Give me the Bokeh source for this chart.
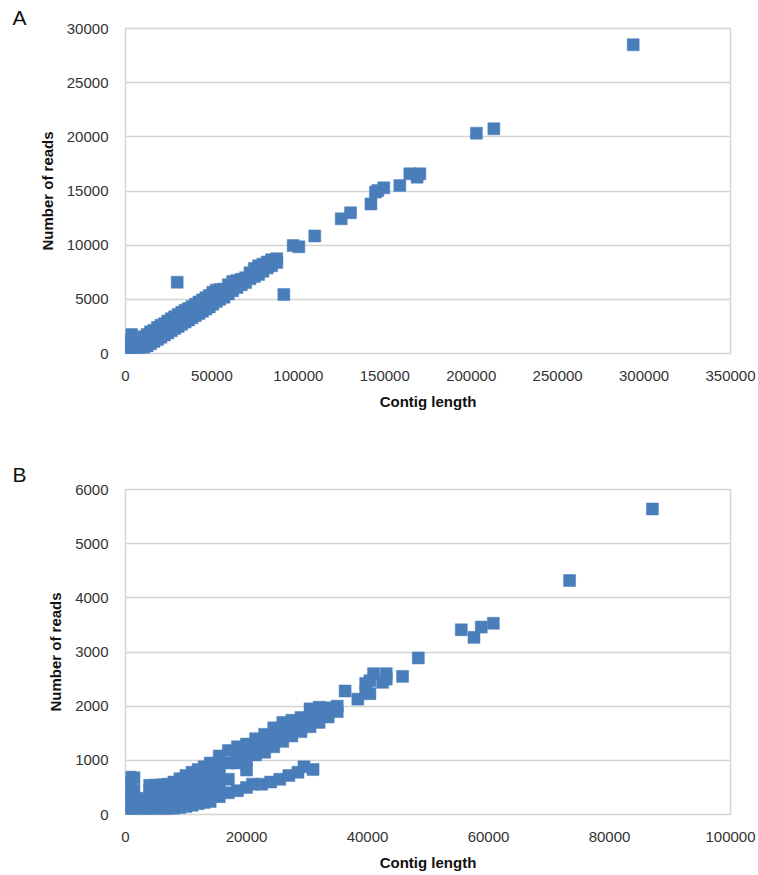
from bokeh.plotting import figure
from bokeh.layouts import column
from bokeh.models import Range1d, FixedTicker, BasicTickFormatter
from bokeh.embed import file_html
from bokeh.resources import INLINE

# ---------------- Panel A ----------------
a_x_ticks = [0, 50000, 100000, 150000, 200000, 250000, 300000, 350000]
a_y_ticks = [0, 5000, 10000, 15000, 20000, 25000, 30000]

a_length = [
    0, 0, 0, 1500, 1500, 3500, 3500, 3500, 3000, 5500, 6000, 8000, 8000,
    10500, 10500, 12500, 12500, 14500, 14500, 16500, 16500, 18500, 18500,
    20500, 20500, 22500, 22500, 24500, 24500, 26500, 26500, 28500, 28500,
    30500, 30500, 32500, 32500, 34500, 34500, 36500, 36500, 38500, 38500,
    40500, 40500, 42500, 42500, 44500, 44500, 46500, 46500, 48500, 48500,
    50500, 50500, 52500, 52500, 54500, 54500, 57000, 57000, 59500, 59500,
    62000, 62000, 64500, 64500, 67000, 67000, 69500, 69500, 72000, 72000,
    74500, 74500, 77000, 77000, 79500, 79500, 82000, 82000, 84500, 84500,
    87500, 87500,
    29900, 91600, 97000, 100300, 109500, 124800, 130200, 142000, 144600,
    146000, 149400, 158700, 164500, 168700, 170300, 203000, 213100, 293700,
]
a_reads = [
    0, 500, 900, 200, 700, 500, 1000, 1750, 1300, 300, 900, 300, 1000,
    1550, 500, 1750, 700, 2000, 900, 2150, 1100, 2400, 1300,
    2600, 1500, 2750, 1700, 3000, 1900, 3200, 2100, 3400, 2300,
    3600, 2500, 3800, 2700, 4000, 2900, 4150, 3100, 4350, 3300,
    4550, 3500, 4750, 3700, 4950, 3900, 5150, 4100, 5350, 4300,
    5650, 4550, 5850, 4800, 5900, 5000, 5950, 5200, 6350, 5500,
    6650, 5800, 6750, 6100, 6850, 6350, 7000, 6550, 7450, 6900,
    7850, 7100, 8100, 7300, 8250, 7600, 8450, 7900, 8650, 8100,
    8750, 8400,
    6580, 5450, 9970, 9850, 10850, 12430, 12990, 13800, 14900,
    15050, 15290, 15500, 16590, 16280, 16590, 20340, 20740, 28500,
]

# ---------------- Panel B ----------------
b_x_ticks = [0, 20000, 40000, 60000, 80000, 100000]
b_y_ticks = [0, 1000, 2000, 3000, 4000, 5000, 6000]

b_length = [
    0, 0, 0, 0,
    700, 700, 700, 700,
    1400, 1400, 1400, 1400,
    2300, 2300, 2300,
    3200, 3200,
    4000, 4000, 4000, 4000,
    5000, 5000, 5000, 5000,
    6000, 6000, 6000, 6000,
    7000, 7000, 7000, 7000,
    8000, 8000, 8000, 8000,
    9000, 9000, 9000, 9000,
    10000, 10000, 10000, 10000,
    11000, 11000, 11000, 11000,
    12000, 12000, 12000, 12000,
    13000, 13000, 13000, 13000, 13000,
    14000, 14000, 14000, 14000, 14000,
    15500, 15500, 15500, 15500, 15500,
    17000, 17000, 17000, 17000,
    # lower band
    18500, 20000, 20000, 21000, 22500, 24000, 25500, 27000, 28500, 29500, 31000,
    # upper band (bottom, middle, top rows)
    18500, 18500, 18500, 20000, 20000, 20000, 21500, 21500, 21500,
    23000, 23000, 23000, 24500, 24500, 24500, 26000, 26000, 26000,
    27500, 27500, 27500, 29000, 29000, 29000, 30500, 30500, 30500,
    32000, 32000, 32000, 33500, 33500, 33500, 35000, 35000,
    # sparse long contigs
    36300, 38400, 39700, 39700, 40400, 40400, 41000, 42500, 43100, 43100,
    45800, 48400, 55500, 57600, 58800, 60800, 73400, 87100,
]
b_reads = [
    0, 200, 400, 600,
    100, 300, 500, 690,
    50, 250, 450, 680,
    40, 200, 300,
    50, 280,
    60, 250, 450, 540,
    70, 270, 470, 540,
    80, 280, 480, 550,
    90, 290, 490, 560,
    110, 310, 510, 600,
    130, 330, 530, 660,
    150, 350, 550, 720,
    170, 370, 570, 780,
    200, 400, 600, 830,
    220, 420, 620, 780, 880,
    240, 440, 640, 800, 950,
    330, 530, 720, 880, 1080,
    400, 650, 950, 1180,
    # lower band
    440, 820, 500, 560, 560, 600, 650, 720, 780, 880, 830,
    # upper band
    950, 1100, 1250, 1000, 1150, 1300, 1100, 1250, 1400,
    1150, 1320, 1480, 1250, 1420, 1600, 1350, 1520, 1700,
    1450, 1600, 1740, 1530, 1660, 1790, 1620, 1800, 1950,
    1700, 1850, 1980, 1800, 1900, 1970, 1900, 2000,
    # sparse long contigs
    2280, 2130, 2420, 2250, 2230, 2470, 2600, 2440, 2600, 2500,
    2550, 2890, 3410, 3270, 3460, 3530, 4320, 5640,
]

MARK = "#4a7ebb"
GRID = "#d4d4d4"
FONT = "Liberation Sans"


def make_panel(label, xs, ys, xticks, yticks, height, top, bottom, right, tstandoff):
    p = figure(width=758, height=height, output_backend="svg", toolbar_location=None,
               x_range=Range1d(xticks[0], xticks[-1]),
               y_range=Range1d(yticks[0], yticks[-1]),
               min_border_left=125, min_border_right=right,
               min_border_top=top, min_border_bottom=bottom)
    p.scatter(xs, ys, marker="square", size=12, fill_color=MARK, line_color=MARK,
              line_width=0.5)

    p.xaxis.ticker = FixedTicker(ticks=xticks)
    p.yaxis.ticker = FixedTicker(ticks=yticks)
    for ax in (p.xaxis[0], p.yaxis[0]):
        ax.formatter = BasicTickFormatter(use_scientific=False)
        ax.axis_line_color = None
        ax.major_tick_line_color = None
        ax.minor_tick_line_color = None
        ax.major_tick_in = 0
        ax.major_tick_out = 0
        ax.major_label_text_font = FONT
        ax.major_label_text_font_size = "15px"
        ax.major_label_text_color = "#333333"
        ax.axis_label_text_font = FONT
        ax.axis_label_text_font_size = "15px"
        ax.axis_label_text_font_style = "bold"
        ax.axis_label_text_color = "#111111"
    p.xaxis.axis_label = "Contig length"
    p.yaxis.axis_label = "Number of reads"
    p.yaxis.major_label_standoff = 17
    p.xaxis.major_label_standoff = 17
    p.yaxis.axis_label_standoff = 8
    p.xaxis.axis_label_standoff = 9

    p.xgrid.grid_line_color = None
    p.ygrid.grid_line_color = GRID
    p.ygrid.grid_line_width = 1.5
    p.outline_line_color = GRID
    p.outline_line_width = 1.5

    p.title.text = label
    p.title.text_font = FONT
    p.title.text_font_size = "21px"
    p.title.text_font_style = "normal"
    p.title.text_color = "#111111"
    p.title.align = "left"
    p.title.offset = -113
    p.title.standoff = tstandoff
    return p


pA = make_panel("A", a_length, a_reads, a_x_ticks, a_y_ticks,
                height=440, top=28, bottom=87, right=28, tstandoff=0)
pB = make_panel("B", b_length, b_reads, b_x_ticks, b_y_ticks,
                height=435, top=49, bottom=61, right=26, tstandoff=8)

layout = column(pA, pB)
open("out.html", "w").write(file_html(layout, INLINE))
